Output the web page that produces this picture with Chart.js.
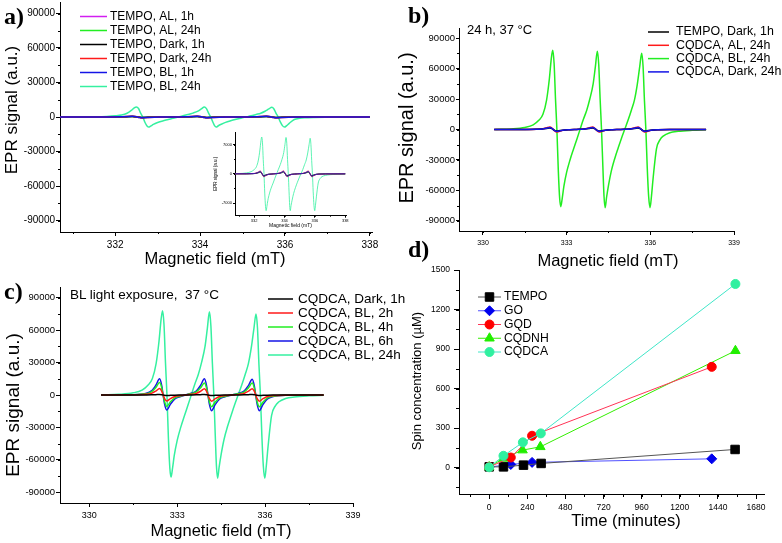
<!DOCTYPE html>
<html>
<head>
<meta charset="utf-8">
<script src="https://cdn.jsdelivr.net/npm/chart.js@4.4.0/dist/chart.umd.min.js"></script>
<style>
body { margin: 0; width: 782px; height: 543px; position: relative; overflow: hidden; background: #fff; font-family: "Liberation Sans", Arial, sans-serif; }
canvas { position: absolute; }
.t { position: absolute; white-space: nowrap; line-height: 1; transform: translate(-50%, -50%); color: #000; }
.v { transform: translate(-50%, -50%) rotate(-90deg); }
.pl { position: absolute; font: bold 24px "Liberation Serif", serif; line-height: 1; }
.note { position: absolute; white-space: nowrap; line-height: 1; }
</style>
</head>
<body>
<canvas id="cA" width="391" height="272" style="left:0;top:0"></canvas>
<canvas id="cB" width="391" height="272" style="left:391px;top:0"></canvas>
<canvas id="cC" width="440" height="271" style="left:0;top:272px"></canvas>
<canvas id="cD" width="391" height="288" style="left:391px;top:255px"></canvas>
<canvas id="cI" width="160" height="112" style="left:205px;top:120px"></canvas>

<div class="pl" style="left:4px;top:4px">a)</div>
<div class="pl" style="left:408px;top:3px">b)</div>
<div class="pl" style="left:4px;top:279px">c)</div>
<div class="pl" style="left:408px;top:237px">d)</div>

<div class="t v" style="left:11px;top:110px;font-size:17px">EPR signal (a.u.)</div>
<div class="t" style="left:215px;top:258px;font-size:16.5px">Magnetic field (mT)</div>
<div class="t v" style="left:406px;top:128px;font-size:20px">EPR signal (a.u.)</div>
<div class="t" style="left:608px;top:260px;font-size:16.5px">Magnetic field (mT)</div>
<div class="t v" style="left:12px;top:405px;font-size:19px">EPR signal (a.u.)</div>
<div class="t" style="left:221px;top:530px;font-size:16.5px">Magnetic field (mT)</div>
<div class="t v" style="left:416px;top:381px;font-size:13px">Spin concentration (µM)</div>
<div class="t" style="left:626px;top:520px;font-size:16.5px">Time (minutes)</div>

<div class="note" style="left:467px;top:23px;font-size:13px">24 h, 37 °C</div>
<div class="note" style="left:70px;top:288px;font-size:13.5px">BL light exposure,&nbsp; 37 °C</div>

<script>
const FONT = '"Liberation Sans", Arial, sans-serif';

// Field grids (mT)
const fieldFine = [330.45, 331.0, 331.5, 331.8, 332.0, 332.15, 332.28, 332.38, 332.45, 332.5,
  332.55, 332.6, 332.65, 332.7, 332.75, 332.79, 332.84, 332.9, 333.0, 333.12,
  333.25, 333.36, 333.48, 333.6, 333.72, 333.83, 333.95, 334.03, 334.1, 334.15,
  334.2, 334.25, 334.3, 334.34, 334.38, 334.43, 334.5, 334.6, 334.72, 334.85,
  334.96, 335.08, 335.2, 335.32, 335.43, 335.53, 335.62, 335.69, 335.74, 335.79,
  335.84, 335.89, 335.94, 335.99, 336.04, 336.1, 336.22, 336.35, 336.46, 336.7,
  337.0, 337.5, 338.0];
const fieldCoarse = [330.4, 331.5, 331.92, 332.12, 332.27, 332.4, 332.47, 332.52, 332.57, 332.64,
  332.77, 332.92, 333.12, 333.28, 333.45, 333.65, 333.8, 333.93, 334.0, 334.05,
  334.1, 334.17, 334.3, 334.45, 334.65, 334.86, 335.08, 335.28, 335.43, 335.56,
  335.63, 335.68, 335.73, 335.8, 335.93, 336.08, 336.28, 336.7, 338.0];

// Tick labels
const eprTicks = [-90000, -60000, -30000, 0, 30000, 60000, 90000];
const aFieldTicks = [332, 334, 336, 338];
const bcFieldTicks = [330, 333, 336, 339];
const insetTicks = [-7000, 0, 7000];
const timeTicks = [0, 240, 480, 720, 960, 1200, 1440, 1680];
const spinTicks = [0, 300, 600, 900, 1200, 1500];

// a) TEMPO
const aAL1 = [0, 7, 35, 90, 210, 350, 210, 0, -210, -350, -210, -90, -35, 0, 35, 90, 210, 350, 210, 0, -210, -350, -210, -90, -35, 0, 35, 90, 210, 350, 210, 0, -210, -350, -210, -90, -35, -7, 0];
const aAL24 = [0, 8, 40, 105, 250, 420, 250, 0, -250, -420, -250, -105, -40, 0, 40, 105, 250, 420, 250, 0, -250, -420, -250, -105, -40, 0, 40, 105, 250, 420, 250, 0, -250, -420, -250, -105, -40, -8, 0];
const aDark1 = [0, 10, 50, 120, 300, 500, 300, 0, -300, -500, -300, -120, -50, 0, 50, 120, 300, 500, 300, 0, -300, -500, -300, -120, -50, 0, 50, 120, 300, 500, 300, 0, -300, -500, -300, -120, -50, -10, 0];
const aDark24 = [0, 14, 70, 175, 420, 700, 420, 0, -420, -700, -420, -175, -70, 0, 70, 175, 420, 700, 420, 0, -420, -700, -420, -175, -70, 0, 70, 175, 420, 700, 420, 0, -420, -700, -420, -175, -70, -14, 0];
const aBL1 = [0, 12, 60, 150, 360, 600, 360, 0, -360, -600, -360, -150, -60, 0, 60, 150, 360, 600, 360, 0, -360, -600, -360, -150, -60, 0, 60, 150, 360, 600, 360, 0, -360, -600, -360, -150, -60, -12, 0];
const aBL24 = [0, 70, 230, 520, 1000, 1700, 3300, 5700, 7900, 8800,
  7400, 3400, 0, -4600, -7800, -8800, -7800, -6400, -4800, -3400,
  -2200, -1100, 0, 1100, 2200, 3400, 5100, 7000, 8700, 7300,
  3400, 0, -4300, -7500, -8800, -7600, -6300, -4700, -3300, -2000,
  -1000, 0, 1000, 2200, 3300, 5000, 7000, 8500, 7000, 3200,
  0, -4300, -7500, -8800, -7500, -5500, -2200, -1100, -700, -360,
  -200, -90, -30];

// b) 24 h, 37 °C
const bTempoDark1 = [0, 30, 150, 380, 900, 1500, 900, 0, -900, -1500, -900, -380, -150, 0, 150, 380, 900, 1500, 900, 0, -900, -1500, -900, -380, -150, 0, 150, 380, 900, 1500, 900, 0, -900, -1500, -900, -380, -150, -30, 0];
const bAL24 = [0, 50, 250, 620, 1500, 2500, 1500, 0, -1500, -2500, -1500, -620, -250, 0, 250, 620, 1500, 2500, 1500, 0, -1500, -2500, -1500, -620, -250, 0, 250, 620, 1500, 2500, 1500, 0, -1500, -2500, -1500, -620, -250, -50, 0];
const cqdcaBL24 = [0, 600, 2000, 4500, 9000, 15000, 29000, 50000, 70000, 78000,
  65000, 30000, 0, -40000, -68000, -76000, -68000, -56000, -42000, -30000,
  -19000, -10000, 0, 10000, 19000, 30000, 45000, 62000, 77000, 64000,
  30000, 0, -38000, -66000, -77000, -67000, -55000, -41000, -29000, -18000,
  -9000, 0, 9000, 19000, 29000, 44000, 62000, 75000, 62000, 28000,
  0, -38000, -66000, -77000, -66000, -48000, -19000, -10000, -6500, -3200,
  -1800, -800, -300];
const bDark24 = [0, 40, 200, 500, 1200, 2000, 1200, 0, -1200, -2000, -1200, -500, -200, 0, 200, 500, 1200, 2000, 1200, 0, -1200, -2000, -1200, -500, -200, 0, 200, 500, 1200, 2000, 1200, 0, -1200, -2000, -1200, -500, -200, -40, 0];

// c) BL light exposure
const cDark1 = [0, 10, 50, 120, 300, 500, 300, 0, -300, -500, -300, -120, -50, 0, 50, 120, 300, 500, 300, 0, -300, -500, -300, -120, -50, 0, 50, 120, 300, 500, 300, 0, -300, -500, -300, -120, -50, -10, 0];
const cBL2 = [0, 120, 600, 1500, 3600, 6000, 3600, 0, -3300, -5500, -3300, -1400, -550, 0, 600, 1500, 3500, 5800, 3500, 0, -3400, -5700, -3400, -1400, -570, 0, 580, 1450, 3500, 5800, 3500, 0, -3400, -5700, -3400, -1400, -570, -120, 0];
const cBL4 = [0, 220, 1100, 2800, 6900, 11500, 6900, 0, -6300, -10500, -6300, -2600, -1000, 0, 1100, 2800, 6700, 11200, 6700, 0, -6400, -10800, -6400, -2700, -1100, 0, 1100, 2700, 6600, 11000, 6600, 0, -6500, -10800, -6500, -2700, -1100, -200, 0];
const cBL6 = [0, 300, 1500, 3800, 9000, 15000, 9000, 0, -8500, -14000, -8500, -3600, -1400, 0, 1500, 3700, 9000, 15000, 9000, 0, -8700, -14500, -8700, -3600, -1400, 0, 1400, 3600, 8700, 14500, 8700, 0, -8700, -14500, -8700, -3600, -1400, -300, 0];

// d) spin concentration vs time
const tempoTime = [0, 90, 216, 327, 1548];
const tempoSpin = [6, 6, 19, 32, 138];
const goTime = [0, 136, 270, 1401];
const goSpin = [5, 24, 40, 67];
const gqdTime = [0, 136, 270, 1401];
const gqdSpin = [5, 77, 242, 765];
const cqdnhTime = [0, 90, 210, 322, 1550];
const cqdnhSpin = [5, 70, 133, 158, 887];
const cqdcaTime = [0, 90, 212, 325, 1550];
const cqdcaSpin = [3, 90, 192, 260, 1394];

// Minor ticks between the labelled ones
const minorTicks = {
    id: 'minorTicks',
    afterDraw(chart, args, opts) {
        const ctx = chart.ctx;
        ctx.save();
        ctx.strokeStyle = '#000';
        ctx.lineWidth = 1;
        ['x', 'y'].forEach(id => {
            const step = opts[id];
            if (!step) return;
            const s = chart.scales[id];
            const len = opts.len || 2;
            for (let k = Math.ceil(s.min / step); k * step <= s.max; k++) {
                const p = Math.round(s.getPixelForValue(k * step)) + 0.5;
                ctx.beginPath();
                if (id === 'x') { ctx.moveTo(p, s.top); ctx.lineTo(p, s.top + len); }
                else { ctx.moveTo(s.right, p); ctx.lineTo(s.right - len, p); }
                ctx.stroke();
            }
        });
        ctx.restore();
    }
};

// Legend drawn at a fixed spot inside the plot
const sideLegend = {
    id: 'sideLegend',
    afterDraw(chart, args, o) {
        if (!o || o.x === undefined) return;
        const ctx = chart.ctx;
        ctx.save();
        ctx.font = o.font;
        ctx.textBaseline = 'middle';
        chart.data.datasets.forEach((ds, i) => {
            const y = o.y + i * o.row;
            ctx.strokeStyle = ds.borderColor;
            ctx.lineWidth = o.lw || 1.5;
            ctx.beginPath();
            ctx.moveTo(o.x, y);
            ctx.lineTo(o.x + o.w, y);
            ctx.stroke();
            if (o.markers) {
                ctx.fillStyle = ds.pointBackgroundColor;
                ctx.strokeStyle = ds.pointBorderColor;
                ctx.lineWidth = 1;
                Chart.helpers.drawPoint(ctx, { pointStyle: ds.pointStyle, radius: ds.pointRadius, rotation: 0, borderWidth: 1 }, o.x + o.w / 2, y);
            }
            ctx.fillStyle = '#000';
            ctx.fillText(ds.label, o.x + o.w + o.gap, y);
        });
        ctx.restore();
    }
};

function axis(o) {
    return {
        type: 'linear',
        min: o.min,
        max: o.max,
        afterBuildTicks: s => { s.ticks = o.ticks.map(v => ({ value: v })); },
        afterFit: s => {
            if (s.isHorizontal()) { s.height = o.size; s.paddingLeft = 0; s.paddingRight = 0; }
            else { s.width = o.size; s.paddingTop = 0; s.paddingBottom = 0; }
        },
        border: { color: '#000', width: 1 },
        grid: { drawOnChartArea: false, tickLength: o.tl, color: '#000', lineWidth: 1 },
        ticks: {
            color: '#000', padding: o.pad, maxRotation: 0, autoSkip: false,
            font: { family: FONT, size: o.fs },
            callback: v => String(v)
        },
        title: o.title || { display: false }
    };
}

function line(label, xs, ys, color, order, w) {
    return {
        label,
        data: xs.map((x, i) => ({ x, y: ys[i] })),
        borderColor: color,
        backgroundColor: color,
        borderWidth: w || 1.5,
        pointRadius: 0,
        cubicInterpolationMode: 'monotone',
        order
    };
}

function series(label, xs, ys, lineColor, mark, style, r, order) {
    return {
        label,
        data: xs.map((x, i) => ({ x, y: ys[i] })),
        borderColor: lineColor,
        borderWidth: 1,
        pointStyle: style,
        pointRadius: r,
        pointBackgroundColor: mark,
        pointBorderColor: mark,
        pointBorderWidth: 1,
        tension: 0,
        order
    };
}

function makeChart(id, datasets, scales, pad, extra) {
    return new Chart(document.getElementById(id), {
        type: 'line',
        data: { datasets },
        options: {
            responsive: false,
            animation: false,
            events: [],
            layout: { padding: pad },
            scales,
            plugins: Object.assign({ legend: { display: false }, tooltip: { enabled: false } }, extra)
        },
        plugins: [minorTicks, sideLegend]
    });
}

const AQUA = '#35f0a0', GREEN = '#22ee22', RED = '#ff1a1a', BLUE = '#1414e6', MAG = '#d21ef0';

function panelA(inset) {
    const w = inset ? 0.8 : 1.5;
    return [
        line('TEMPO, AL, 1h', fieldCoarse, aAL1, MAG, 4, w),
        line('TEMPO, AL, 24h', fieldCoarse, aAL24, GREEN, 3, w),
        line('TEMPO, Dark, 1h', fieldCoarse, aDark1, '#000', 2, w),
        line('TEMPO, Dark, 24h', fieldCoarse, aDark24, RED, 1, w),
        line('TEMPO, BL, 1h', fieldCoarse, aBL1, BLUE, 0, w),
        line('TEMPO, BL, 24h', fieldFine, aBL24, AQUA, 5, w)
    ];
}

// a)
makeChart('cA', panelA(false), {
    x: axis({ min: 330.7, max: 338.05, ticks: aFieldTicks, size: 40, tl: 4, pad: 3, fs: 10 }),
    y: axis({ min: -100000, max: 100000, ticks: eprTicks, size: 60, tl: 4, pad: 1, fs: 10 })
}, { left: 0, top: 2, right: 19, bottom: 0 }, {
    minorTicks: { x: 1, y: 15000 },
    sideLegend: { x: 80, y: 16.5, row: 14, w: 27, gap: 3, font: '12px ' + FONT }
});

// a) inset
makeChart('cI', panelA(true), {
    x: axis({ min: 330.74, max: 338.05, ticks: aFieldTicks, size: 16.3, tl: 2, pad: 1, fs: 4,
        title: { display: true, text: 'Magnetic field (mT)', color: '#000', font: { family: FONT, size: 5, lineHeight: 1.2 }, padding: { top: 0, bottom: 3.3 } } }),
    y: axis({ min: -10000, max: 10000, ticks: insetTicks, size: 30, tl: 2, pad: 1, fs: 4,
        title: { display: true, text: 'EPR signal (a.u.)', color: '#000', font: { family: FONT, size: 4.5, lineHeight: 1.2 }, padding: { top: 8.3, bottom: 0 } } })
}, { left: 0, top: 12, right: 19, bottom: 0 }, {
    minorTicks: { x: 1, y: 3500, len: 1 }
});

// b)
makeChart('cB', [
    line('TEMPO, Dark, 1h', fieldCoarse, bTempoDark1, '#000', 1),
    line('CQDCA, AL, 24h', fieldCoarse, bAL24, RED, 2),
    line('CQDCA, BL, 24h', fieldFine, cqdcaBL24, GREEN, 3),
    line('CQDCA, Dark, 24h', fieldCoarse, bDark24, BLUE, 0)
], {
    x: axis({ min: 329.14, max: 339, ticks: bcFieldTicks, size: 41, tl: 4, pad: 4, fs: 7 }),
    y: axis({ min: -100000, max: 100000, ticks: eprTicks, size: 68, tl: 3, pad: 1, fs: 9.5 })
}, { left: 0, top: 28, right: 48, bottom: 0 }, {
    minorTicks: { x: 1.5, y: 15000 },
    sideLegend: { x: 257, y: 32, row: 13.3, w: 21, gap: 7, font: '12.4px ' + FONT }
});

// c)
makeChart('cC', [
    line('CQDCA, Dark, 1h', fieldCoarse, cDark1, '#000', 0),
    line('CQDCA, BL, 2h', fieldCoarse, cBL2, RED, 1),
    line('CQDCA, BL, 4h', fieldCoarse, cBL4, GREEN, 2),
    line('CQDCA, BL, 6h', fieldCoarse, cBL6, BLUE, 3),
    line('CQDCA, BL, 24h', fieldFine, cqdcaBL24, AQUA, 4)
], {
    x: axis({ min: 329, max: 339, ticks: bcFieldTicks, size: 40, tl: 4, pad: 3, fs: 9 }),
    y: axis({ min: -100000, max: 100000, ticks: eprTicks, size: 60, tl: 4, pad: 1, fs: 9.5 })
}, { left: 0, top: 15, right: 87, bottom: 0 }, {
    minorTicks: { x: 1.5, y: 15000 },
    sideLegend: { x: 268, y: 27, row: 14, w: 25, gap: 5, font: '13.5px ' + FONT }
});

// d)
makeChart('cD', [
    series('TEMPO', tempoTime, tempoSpin, '#555555', '#000000', 'rect', 6, 3),
    series('GO', goTime, goSpin, '#5050ff', '#0000ee', 'rectRot', 5, 4),
    series('GQD', gqdTime, gqdSpin, '#ff3355', '#ff0000', 'circle', 4.5, 1),
    series('CQDNH', cqdnhTime, cqdnhSpin, '#33ee00', '#22ee00', 'triangle', 5.5, 2),
    series('CQDCA', cqdcaTime, cqdcaSpin, '#40e6c8', '#30f0a0', 'circle', 4.5, 0)
], {
    x: axis({ min: -190, max: 1730, ticks: timeTicks, size: 49, tl: 5, pad: 4, fs: 8.5 }),
    y: axis({ min: -200, max: 1500, ticks: spinTicks, size: 68, tl: 5, pad: 4, fs: 8.5 })
}, { left: 0, top: 15, right: 18, bottom: 0 }, {
    minorTicks: { x: 120, y: 150, len: 3 },
    sideLegend: { x: 87, y: 42, row: 13.75, w: 23, gap: 3, lw: 1, markers: true, font: '12.2px ' + FONT }
});
</script>
</body>
</html>
